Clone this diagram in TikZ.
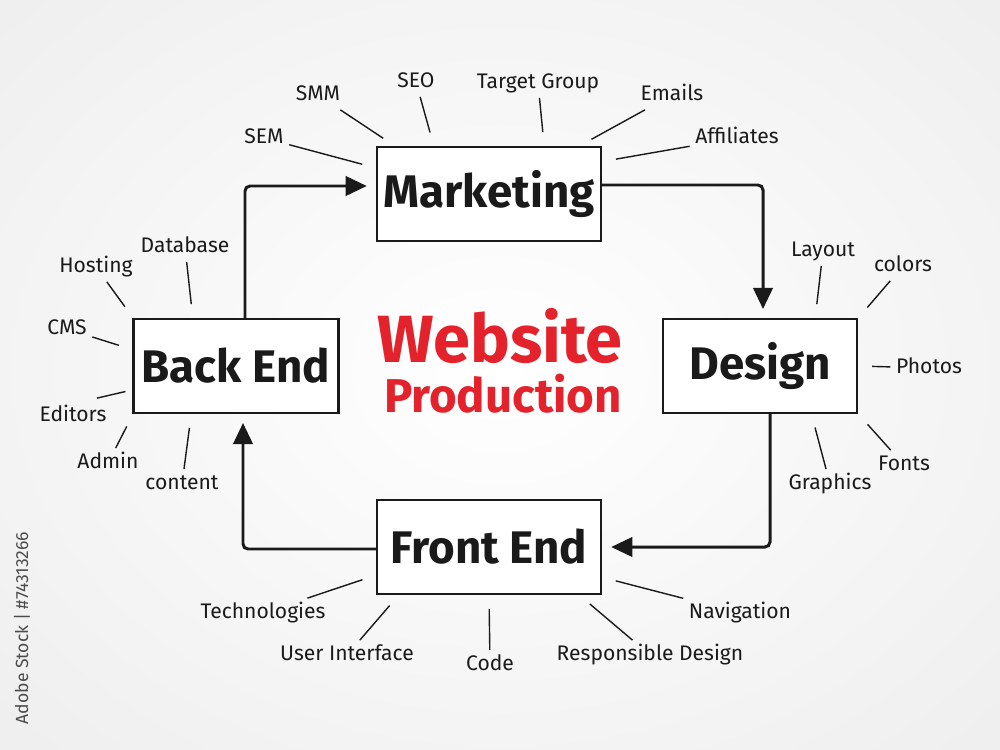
\documentclass[tikz,border=0pt]{standalone}
\usepackage{fontspec}
\setmainfont{Fira Sans}
\usetikzlibrary{positioning, arrows.meta}
\definecolor{ink}{HTML}{1A1A1A}
\definecolor{inkred}{HTML}{E4222B}

\begin{document}
\begin{tikzpicture}[
    x=0.02cm, y=-0.02cm,
    stage/.style={rectangle, draw=ink, fill=white, line width=1.4pt, minimum height=1.87cm, text=ink, font=\fontsize{26}{30}\selectfont\bfseries},
    topic/.style={inner sep=3pt, text=ink, text height=1.6ex, text depth=0.4ex, font=\fontsize{12}{14}\selectfont},
    spoke/.style={draw=ink, line width=0.8pt, shorten >=0.28cm},
    arrow/.style={draw=ink, line width=1.7pt, rounded corners=0.1cm, shorten >=0.18cm, -{Triangle[length=12pt,width=11pt]}},
    headline/.style={inner sep=0pt, text=inkred}
    ]

    \begin{scope}
      \clip (0,0) rectangle (1000,750);
      \shade[inner color=white, outer color=black!12] (500,370) ellipse [x radius=26cm, y radius=20cm];
    \end{scope}
    \useasboundingbox (0,0) rectangle (1000,750);

    \node[stage, minimum width=4.48cm] (marketing) at (489,194) {Marketing};
    \node[stage, minimum width=3.88cm] (design) at (760,366) {Design};
    \node[stage, minimum width=4.1cm] (backend) at (236,366) {Back End};
    \node[stage, minimum width=4.48cm] (frontend) at (489,547) {Front End};

    \node[headline, font=\fontsize{38}{40}\selectfont\bfseries] (website) at (500,336) {Website};
    \node[headline, font=\fontsize{27}{29}\selectfont\bfseries, below=0.2cm of website, xshift=0.06cm] (production) {Production};

    \draw[arrow] ([xshift=0.18cm]backend.north) |- ([yshift=0.16cm]marketing.west);
    \draw[arrow] ([yshift=0.18cm]marketing.east) -| ([xshift=0.06cm]design.north);
    \draw[arrow] ([xshift=0.2cm]design.south) |- (frontend.east);
    \draw[arrow] ([yshift=-0.04cm]frontend.west) -| ([xshift=0.14cm]backend.south);

    \node[topic] (smm) at (318,95) {SMM};
    \node[topic] (seo) at (416,82) {SEO};
    \node[topic] (target) at (538,83) {Target Group};
    \node[topic] (emails) at (672,95) {Emails};
    \node[topic] (affiliates) at (737,138) {Affiliates};
    \node[topic] (sem) at (264,138) {SEM};

    \node[topic] (layout) at (823,251) {Layout};
    \node[topic] (colors) at (903,266) {colors};
    \node[topic] (photos) at (929,368) {Photos};
    \node[topic] (fonts) at (904,465) {Fonts};
    \node[topic] (graphics) at (830,484) {Graphics};

    \node[topic] (hosting) at (96,267) {Hosting};
    \node[topic] (database) at (185,247) {Database};
    \node[topic] (cms) at (67,329) {CMS};
    \node[topic] (editors) at (73,416) {Editors};
    \node[topic] (admin) at (108,463) {Admin};
    \node[topic] (content) at (182,484) {content};

    \node[topic] (technologies) at (263,613) {Technologies};
    \node[topic] (userinterface) at (347,655) {User Interface};
    \node[topic] (code) at (490,665) {Code};
    \node[topic] (responsive) at (650,655) {Responsible Design};
    \node[topic] (navigation) at (740,613) {Navigation};

    \draw[spoke] (smm) -- (marketing.153);
    \draw[spoke] (seo) -- (marketing.139);
    \draw[spoke] (target) -- (marketing.41);
    \draw[spoke] (emails) -- (marketing.28);
    \draw[spoke] (affiliates) -- (marketing.16);
    \draw[spoke] (sem) -- (marketing.167);

    \draw[spoke] (layout) -- (design.41);
    \draw[spoke] (colors) -- (design.26);
    \draw[spoke] (photos) -- (design.east);
    \draw[spoke] (fonts) -- (design.-26);
    \draw[spoke] (graphics) -- (design.-43);

    \draw[spoke] (hosting) -- (backend.155);
    \draw[spoke] (database) -- (backend.132);
    \draw[spoke] (cms) -- (backend.171);
    \draw[spoke, shorten >=0.14cm] ([xshift=-0.3cm, yshift=0.06cm]editors.north east) -- (backend.193);
    \draw[spoke] (admin) -- (backend.205);
    \draw[spoke] (content) -- (backend.227);

    \draw[spoke] (technologies) -- (frontend.194);
    \draw[spoke] (userinterface) -- (frontend.208);
    \draw[spoke] (code) -- (frontend.south);
    \draw[spoke] (responsive) -- (frontend.-28);
    \draw[spoke] (navigation) -- (frontend.-15);

    \node[rotate=90, text=black!70, font=\fontsize{10}{12}\selectfont] (stock) at (22,628) {Adobe Stock | \#74313266};

  \end{tikzpicture}
\end{document}
